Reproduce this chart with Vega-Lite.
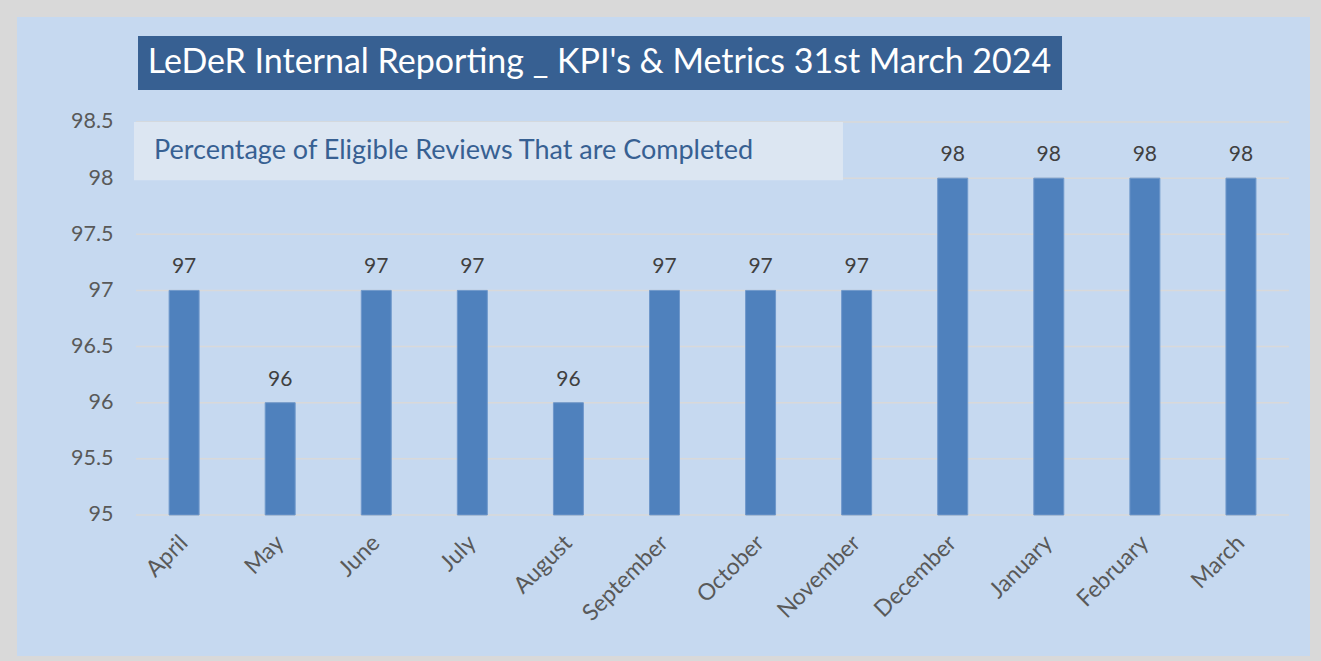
{
  "$schema": "https://vega.github.io/schema/vega-lite/v6.json",
  "width": 1293,
  "height": 639,
  "autosize": {"type": "none"},
  "padding": {"left": 17, "top": 17, "right": 11, "bottom": 5},
  "background": "#D9D9D9",
  "config": {
    "view": {"fill": "#C6D9F0", "stroke": null},
    "font": "Lato"
  },
  "data": {
    "values": [
      {"month": "April", "pct": 97},
      {"month": "May", "pct": 96},
      {"month": "June", "pct": 97},
      {"month": "July", "pct": 97},
      {"month": "August", "pct": 96},
      {"month": "September", "pct": 97},
      {"month": "October", "pct": 97},
      {"month": "November", "pct": 97},
      {"month": "December", "pct": 98},
      {"month": "January", "pct": 98},
      {"month": "February", "pct": 98},
      {"month": "March", "pct": 98}
    ]
  },
  "resolve": {"scale": {"x": "independent"}, "axis": {"x": "independent"}},
  "layer": [
    {
      "data": {"values": [{"tick": 95}, {"tick": 95.5}, {"tick": 96}, {"tick": 96.5}, {"tick": 97}, {"tick": 97.5}, {"tick": 98}, {"tick": 98.5}]},
      "mark": {"type": "rule", "color": "#D9D9D9", "strokeWidth": 1.5},
      "encoding": {
        "x": {"datum": 0, "type": "quantitative", "scale": {"domain": [-1.2385, 12.219], "nice": false, "zero": false}, "axis": null},
        "x2": {"datum": 12},
        "y": {
          "field": "tick", "type": "quantitative",
          "scale": {"domain": [93.744, 99.435], "nice": false, "zero": false},
          "axis": {
            "title": null, "values": [95, 95.5, 96, 96.5, 97, 97.5, 98, 98.5], "format": ".1~f",
            "offset": -96, "domain": false, "ticks": false, "grid": false, "labelPadding": 0,
            "labelFont": "Lato", "labelFontSize": 21.5, "labelColor": "#595959"
          }
        }
      }
    },
    {
      "mark": {"type": "bar", "color": "#4F81BD", "stroke": "#6F98CB", "strokeWidth": 1, "width": {"band": 0.312}},
      "encoding": {
        "x": {
          "field": "month", "type": "nominal", "sort": null,
          "scale": {"type": "band", "paddingInner": 0, "paddingOuter": 0.729, "align": 0.85},
          "axis": {
            "title": null, "orient": "bottom", "offset": -141, "domain": false, "ticks": false,
            "labelAngle": -45, "labelAlign": "right", "labelBaseline": "middle", "labelPadding": 24,
            "labelFont": "Lato", "labelFontSize": 23, "labelColor": "#595959"
          }
        },
        "y": {
          "field": "pct", "type": "quantitative",
          "scale": {"domain": [93.744, 99.435], "nice": false, "zero": false}
        },
        "y2": {"datum": 95}
      }
    },
    {
      "mark": {"type": "text", "font": "Lato", "fontSize": 21, "color": "#404040", "baseline": "alphabetic", "dy": -17},
      "encoding": {
        "x": {
          "field": "month", "type": "nominal", "sort": null, "bandPosition": 0.5,
          "scale": {"type": "band", "paddingInner": 0, "paddingOuter": 0.729, "align": 0.85},
          "axis": null
        },
        "y": {"field": "pct", "type": "quantitative", "scale": {"domain": [93.744, 99.435], "nice": false, "zero": false}},
        "text": {"field": "pct", "type": "quantitative"}
      }
    },
    {
      "data": {"values": [{"label": "LeDeR Internal Reporting _ KPI's & Metrics 31st March 2024"}]},
      "mark": {"type": "rect", "color": "#376092"},
      "encoding": {
        "x": {"datum": 0.021, "type": "quantitative", "scale": {"domain": [-1.2385, 12.219], "nice": false, "zero": false}, "axis": null},
        "x2": {"datum": 9.638},
        "y": {"datum": 99.266, "type": "quantitative", "scale": {"domain": [93.744, 99.435], "nice": false, "zero": false}},
        "y2": {"datum": 98.785}
      }
    },
    {
      "data": {"values": [{"label": "LeDeR Internal Reporting _ KPI's & Metrics 31st March 2024"}]},
      "mark": {"type": "text", "font": "Lato", "fontSize": 34, "color": "#FFFFFF", "align": "center", "baseline": "middle"},
      "encoding": {
        "x": {"datum": 4.824, "type": "quantitative", "scale": {"domain": [-1.2385, 12.219], "nice": false, "zero": false}, "axis": null},
        "y": {"datum": 99.025, "type": "quantitative", "scale": {"domain": [93.744, 99.435], "nice": false, "zero": false}},
        "text": {"field": "label"}
      }
    },
    {
      "data": {"values": [{"label": "Percentage of Eligible Reviews That are Completed"}]},
      "mark": {"type": "rect", "color": "#DCE6F2"},
      "encoding": {
        "x": {"datum": -0.021, "type": "quantitative", "scale": {"domain": [-1.2385, 12.219], "nice": false, "zero": false}, "axis": null},
        "x2": {"datum": 7.358},
        "y": {"datum": 98.5, "type": "quantitative", "scale": {"domain": [93.744, 99.435], "nice": false, "zero": false}},
        "y2": {"datum": 97.98}
      }
    },
    {
      "data": {"values": [{"label": "Percentage of Eligible Reviews That are Completed"}]},
      "mark": {"type": "text", "font": "Lato", "fontSize": 27, "color": "#376092", "align": "left", "baseline": "middle"},
      "encoding": {
        "x": {"datum": 0.187, "type": "quantitative", "scale": {"domain": [-1.2385, 12.219], "nice": false, "zero": false}, "axis": null},
        "y": {"datum": 98.242, "type": "quantitative", "scale": {"domain": [93.744, 99.435], "nice": false, "zero": false}},
        "text": {"field": "label"}
      }
    }
  ]
}
